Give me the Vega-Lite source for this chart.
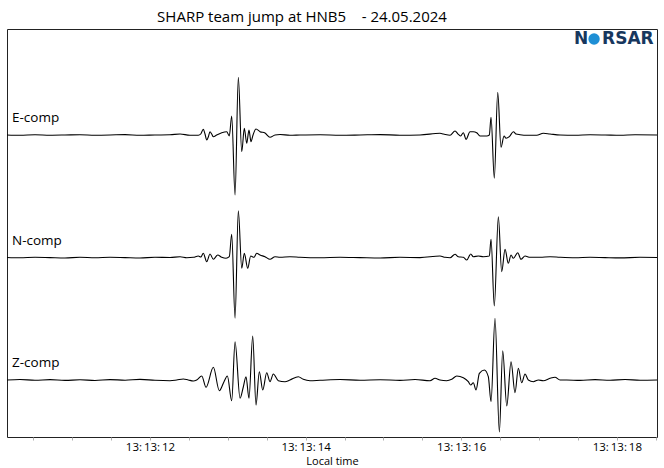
{
  "$schema": "https://vega.github.io/schema/vega-lite/v6.json",
  "width": 650,
  "height": 408,
  "autosize": {"type": "none"},
  "padding": {"left": 7, "top": 29, "right": 7, "bottom": 31},
  "background": "white",
  "config": {"view": {"stroke": "#222222", "strokeWidth": 1}, "font": "Open Sans"},
  "title": {"text": "SHARP team jump at HNB5\u00a0\u00a0\u00a0\u00a0- 24.05.2024", "fontSize": 15, "fontWeight": "normal", "color": "black", "font": "Open Sans", "offset": 4, "dx": -30},
  "datasets": {
    "E": [
      {"time":10.162,"amp":0},{"time":10.329,"amp":-0.3},{"time":10.522,"amp":0.2},{"time":10.715,"amp":-0.2},{"time":10.907,"amp":0},{"time":11.100,"amp":0.3},{"time":11.293,"amp":-0.2},{"time":11.486,"amp":0},{"time":11.679,"amp":0.4},{"time":11.871,"amp":-0.3},{"time":12.064,"amp":0},{"time":12.257,"amp":0.2},{"time":12.386,"amp":1},{"time":12.514,"amp":-0.3},{"time":12.621,"amp":-0.3},{"time":12.652,"amp":1},{"time":12.685,"amp":5.7},{"time":12.707,"amp":1},{"time":12.729,"amp":-5},{"time":12.749,"amp":-2},{"time":12.771,"amp":3.3},{"time":12.793,"amp":1},{"time":12.814,"amp":-1.7},{"time":12.857,"amp":0},{"time":12.922,"amp":2.3},{"time":12.986,"amp":3.3},{"time":13.019,"amp":-1},{"time":13.050,"amp":19},{"time":13.093,"amp":-60},{"time":13.135,"amp":57.7},{"time":13.179,"amp":-16.7},{"time":13.212,"amp":6.7},{"time":13.243,"amp":-8.3},{"time":13.272,"amp":5},{"time":13.298,"amp":-6.7},{"time":13.324,"amp":0},{"time":13.362,"amp":6},{"time":13.414,"amp":3.3},{"time":13.478,"amp":2},{"time":13.542,"amp":-2.3},{"time":13.607,"amp":0},{"time":13.671,"amp":0.5},{"time":13.799,"amp":-0.3},{"time":13.928,"amp":0},{"time":14.185,"amp":0.3},{"time":14.442,"amp":-0.3},{"time":14.699,"amp":0},{"time":14.956,"amp":0.4},{"time":15.213,"amp":-0.2},{"time":15.470,"amp":0},{"time":15.727,"amp":1.7},{"time":15.770,"amp":1},{"time":15.856,"amp":-0.3},{"time":15.920,"amp":4},{"time":15.963,"amp":0.7},{"time":15.993,"amp":-1},{"time":16.027,"amp":2.3},{"time":16.062,"amp":-4.3},{"time":16.113,"amp":3.3},{"time":16.155,"amp":3.3},{"time":16.199,"amp":2.3},{"time":16.241,"amp":-1},{"time":16.328,"amp":-1},{"time":16.361,"amp":0},{"time":16.383,"amp":17.7},{"time":16.425,"amp":-43.3},{"time":16.469,"amp":42.7},{"time":16.511,"amp":-12.3},{"time":16.550,"amp":-1},{"time":16.576,"amp":-3.3},{"time":16.618,"amp":-1.7},{"time":16.670,"amp":3.3},{"time":16.704,"amp":1},{"time":16.756,"amp":0.3},{"time":16.842,"amp":-0.3},{"time":16.970,"amp":-0.3},{"time":17.055,"amp":1.7},{"time":17.141,"amp":1},{"time":17.270,"amp":0},{"time":17.463,"amp":-0.2},{"time":17.655,"amp":0.2},{"time":17.848,"amp":0},{"time":18.041,"amp":-0.3},{"time":18.234,"amp":0.2},{"time":18.516,"amp":0}
    ],
    "N": [
      {"time":10.162,"amp":0},{"time":10.329,"amp":-0.3},{"time":10.522,"amp":0.3},{"time":10.715,"amp":-0.1},{"time":10.907,"amp":-0.5},{"time":11.100,"amp":0.2},{"time":11.293,"amp":-0.3},{"time":11.486,"amp":0.3},{"time":11.679,"amp":-0.1},{"time":11.871,"amp":-0.5},{"time":12.064,"amp":0.2},{"time":12.257,"amp":0},{"time":12.386,"amp":0.8},{"time":12.472,"amp":-0.2},{"time":12.557,"amp":0.2},{"time":12.621,"amp":1.5},{"time":12.652,"amp":0.5},{"time":12.685,"amp":4.2},{"time":12.729,"amp":-4.2},{"time":12.771,"amp":3.5},{"time":12.814,"amp":-1.8},{"time":12.870,"amp":2.5},{"time":12.922,"amp":0.2},{"time":12.977,"amp":-0.8},{"time":13.019,"amp":0.8},{"time":13.050,"amp":23.2},{"time":13.093,"amp":-60.8},{"time":13.135,"amp":46.8},{"time":13.179,"amp":-10.8},{"time":13.212,"amp":4.2},{"time":13.256,"amp":-10.8},{"time":13.294,"amp":1.5},{"time":13.337,"amp":0.2},{"time":13.371,"amp":4.2},{"time":13.414,"amp":2.5},{"time":13.478,"amp":0.8},{"time":13.542,"amp":-1.8},{"time":13.607,"amp":0.8},{"time":13.671,"amp":0.2},{"time":13.799,"amp":0.8},{"time":13.928,"amp":0.2},{"time":14.185,"amp":-0.3},{"time":14.442,"amp":0.3},{"time":14.699,"amp":-0.1},{"time":14.956,"amp":-0.5},{"time":15.213,"amp":0.2},{"time":15.470,"amp":-0.1},{"time":15.727,"amp":1.5},{"time":15.792,"amp":0.2},{"time":15.856,"amp":-0.2},{"time":15.920,"amp":3.2},{"time":15.963,"amp":0.8},{"time":16.027,"amp":0.2},{"time":16.071,"amp":-2.5},{"time":16.122,"amp":3.5},{"time":16.155,"amp":0.8},{"time":16.220,"amp":1.5},{"time":16.284,"amp":0.8},{"time":16.361,"amp":1.5},{"time":16.383,"amp":18.2},{"time":16.425,"amp":-48.5},{"time":16.477,"amp":40.8},{"time":16.520,"amp":-14.2},{"time":16.563,"amp":8.2},{"time":16.605,"amp":-5.8},{"time":16.640,"amp":2.5},{"time":16.670,"amp":-0.8},{"time":16.726,"amp":4.8},{"time":16.768,"amp":-1.8},{"time":16.820,"amp":1.5},{"time":16.884,"amp":0.2},{"time":17.013,"amp":0.2},{"time":17.141,"amp":0.8},{"time":17.270,"amp":0.2},{"time":17.463,"amp":-0.3},{"time":17.655,"amp":0.3},{"time":17.848,"amp":-0.1},{"time":18.041,"amp":-0.4},{"time":18.298,"amp":0.2},{"time":18.516,"amp":0}
    ],
    "Z": [
      {"time":10.162,"amp":0},{"time":10.329,"amp":0.5},{"time":10.522,"amp":-0.3},{"time":10.715,"amp":0.4},{"time":10.907,"amp":-0.4},{"time":11.100,"amp":0.2},{"time":11.293,"amp":-0.5},{"time":11.486,"amp":0.4},{"time":11.679,"amp":-0.2},{"time":11.871,"amp":0.6},{"time":12.064,"amp":-0.3},{"time":12.257,"amp":-0.7},{"time":12.343,"amp":0},{"time":12.428,"amp":1},{"time":12.492,"amp":0},{"time":12.557,"amp":-1},{"time":12.600,"amp":0},{"time":12.665,"amp":4},{"time":12.720,"amp":-7.3},{"time":12.814,"amp":12.7},{"time":12.891,"amp":-10.7},{"time":12.951,"amp":-1.7},{"time":12.994,"amp":4},{"time":13.050,"amp":-20.7},{"time":13.093,"amp":38.3},{"time":13.157,"amp":-18.3},{"time":13.199,"amp":-7},{"time":13.234,"amp":3.3},{"time":13.272,"amp":-18.3},{"time":13.320,"amp":44},{"time":13.362,"amp":-25},{"time":13.405,"amp":8.3},{"time":13.449,"amp":-10},{"time":13.500,"amp":7.3},{"time":13.542,"amp":-1.7},{"time":13.585,"amp":6},{"time":13.649,"amp":-0.7},{"time":13.735,"amp":-1.7},{"time":13.799,"amp":0},{"time":13.906,"amp":3.3},{"time":13.970,"amp":0.7},{"time":14.056,"amp":-0.7},{"time":14.185,"amp":-0.3},{"time":14.442,"amp":0.5},{"time":14.699,"amp":-0.2},{"time":14.956,"amp":0.3},{"time":15.213,"amp":-0.4},{"time":15.406,"amp":0.5},{"time":15.599,"amp":-0.7},{"time":15.663,"amp":1.7},{"time":15.727,"amp":0},{"time":15.813,"amp":-0.7},{"time":15.878,"amp":0.7},{"time":15.942,"amp":4},{"time":16.027,"amp":2.3},{"time":16.091,"amp":-1.7},{"time":16.122,"amp":-5},{"time":16.155,"amp":-2.7},{"time":16.190,"amp":-10},{"time":16.233,"amp":6.7},{"time":16.297,"amp":10},{"time":16.348,"amp":3.3},{"time":16.383,"amp":-21.7},{"time":16.434,"amp":61.7},{"time":16.490,"amp":-52},{"time":16.533,"amp":29.3},{"time":16.585,"amp":-26},{"time":16.640,"amp":18.3},{"time":16.691,"amp":-12.7},{"time":16.734,"amp":11.7},{"time":16.777,"amp":-2.7},{"time":16.820,"amp":6},{"time":16.862,"amp":0},{"time":16.927,"amp":-1.7},{"time":16.991,"amp":0},{"time":17.055,"amp":-0.7},{"time":17.141,"amp":1.7},{"time":17.205,"amp":2.7},{"time":17.270,"amp":0},{"time":17.356,"amp":0},{"time":17.527,"amp":-0.4},{"time":17.720,"amp":0.4},{"time":17.912,"amp":-0.3},{"time":18.105,"amp":0.5},{"time":18.298,"amp":-0.2},{"time":18.516,"amp":0}
    ]
  },
  "layer": [
    {
      "layer": [
        {
          "data": {"name": "E"},
          "mark": {"type": "line", "color": "black", "strokeWidth": 1.1, "interpolate": "monotone"},
          "encoding": {
            "x": {"field": "time", "type": "quantitative", "scale": {"domain": [10.162, 18.516], "nice": false, "zero": false}, "axis": {"values": [10.5,11,11.5,12,12.5,13,13.5,14,14.5,15,15.5,16,16.5,17,17.5,18,18.5], "labelExpr": "datum.value % 2 === 0 ? '13:\u200913:\u2009' + datum.value : ''", "title": "Local time", "grid": false, "domain": false, "tickSize": 3, "tickColor": "#b0b0b0", "labelFontSize": 11.5, "labelColor": "black", "labelFont": "Open Sans", "labelPadding": 1, "labelOverlap": false, "labelFlush": false, "titleFontSize": 11, "titleFontWeight": "normal", "titleFont": "Open Sans", "titleColor": "black", "titlePadding": 3}},
            "y": {"field": "amp", "type": "quantitative", "scale": {"domain": [-302, 106], "nice": false, "zero": false}, "axis": null}
          }
        },
        {
          "data": {"values": [{"label": "E-comp"}]},
          "mark": {"type": "text", "align": "left", "baseline": "middle", "fontSize": 13.5, "font": "Open Sans", "color": "black"},
          "encoding": {
            "x": {"datum": 10.226, "type": "quantitative"},
            "y": {"datum": 17, "type": "quantitative"},
            "text": {"field": "label"}
          }
        },
        {
          "data": {"values": [{"label": "N"}]},
          "mark": {"type": "text", "align": "left", "baseline": "middle", "fontSize": 17, "fontWeight": "bold", "font": "DejaVu Sans", "color": "#17375e"},
          "encoding": {
            "x": {"datum": 17.450, "type": "quantitative"},
            "y": {"datum": 96, "type": "quantitative"},
            "text": {"field": "label"}
          }
        },
        {
          "data": {"values": [{"label": "O"}]},
          "mark": {"type": "point", "shape": "circle", "filled": true, "size": 130, "color": "#1e8fd5", "opacity": 1},
          "encoding": {
            "x": {"datum": 17.707, "type": "quantitative"},
            "y": {"datum": 96, "type": "quantitative"}
          }
        },
        {
          "data": {"values": [{"label": "RSAR"}]},
          "mark": {"type": "text", "align": "left", "baseline": "middle", "fontSize": 17, "fontWeight": "bold", "font": "DejaVu Sans", "color": "#17375e"},
          "encoding": {
            "x": {"datum": 17.810, "type": "quantitative"},
            "y": {"datum": 96, "type": "quantitative"},
            "text": {"field": "label"}
          }
        }
      ]
    },
    {
      "layer": [
        {
          "data": {"name": "N"},
          "mark": {"type": "line", "color": "black", "strokeWidth": 1.1, "interpolate": "monotone"},
          "encoding": {
            "x": {"field": "time", "type": "quantitative", "scale": {"domain": [10.162, 18.516], "nice": false, "zero": false}},
            "y": {"field": "amp", "type": "quantitative", "scale": {"domain": [-179.5, 228.5], "nice": false, "zero": false}, "axis": null}
          }
        },
        {
          "data": {"values": [{"label": "N-comp"}]},
          "mark": {"type": "text", "align": "left", "baseline": "middle", "fontSize": 13.5, "font": "Open Sans", "color": "black"},
          "encoding": {
            "x": {"datum": 10.226, "type": "quantitative"},
            "y": {"datum": 16.5, "type": "quantitative"},
            "text": {"field": "label"}
          }
        }
      ]
    },
    {
      "layer": [
        {
          "data": {"name": "Z"},
          "mark": {"type": "line", "color": "black", "strokeWidth": 1.1, "interpolate": "monotone"},
          "encoding": {
            "x": {"field": "time", "type": "quantitative", "scale": {"domain": [10.162, 18.516], "nice": false, "zero": false}},
            "y": {"field": "amp", "type": "quantitative", "scale": {"domain": [-57, 351], "nice": false, "zero": false}, "axis": null}
          }
        },
        {
          "data": {"values": [{"label": "Z-comp"}]},
          "mark": {"type": "text", "align": "left", "baseline": "middle", "fontSize": 13.5, "font": "Open Sans", "color": "black"},
          "encoding": {
            "x": {"datum": 10.226, "type": "quantitative"},
            "y": {"datum": 17, "type": "quantitative"},
            "text": {"field": "label"}
          }
        }
      ]
    }
  ],
  "resolve": {"scale": {"y": "independent"}, "axis": {"y": "independent"}}
}
